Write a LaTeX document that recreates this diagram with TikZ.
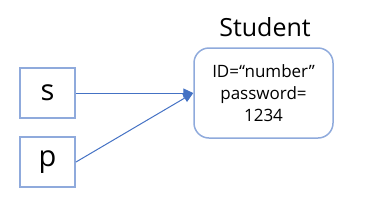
\documentclass[tikz,border=0pt]{standalone}
\usepackage{fontspec}
\setmainfont{Open Sans}
\usetikzlibrary{arrows.meta}
\definecolor{boxblue}{HTML}{8FAADC}
\definecolor{lineblue}{HTML}{4472C4}
\begin{document}
\begin{tikzpicture}[x=1pt,y=-1pt,
  varbox/.style={draw=boxblue,line width=2pt,minimum width=55pt,minimum height=50pt,inner sep=0pt,font=\fontsize{29}{30}\selectfont},
  objbox/.style={draw=boxblue,line width=1.5pt,rounded corners=15pt,minimum width=139pt,minimum height=90pt,inner sep=0pt,align=center,font=\fontsize{17}{22}\selectfont},
  ref/.style={draw=lineblue,line width=1pt,-{Triangle[length=10pt,width=9pt]}}]
\useasboundingbox (0,0) rectangle (371,212);
\node[varbox] (s) at (47.5,93) {s};
\node[varbox] (p) at (47.5,162) {p};
\node[objbox] (obj) at (263.5,93) {ID=“number”\\password=\\1234};
\node[font=\fontsize{25}{28}\selectfont,anchor=base] (title) at (265,36) {Student};
\coordinate (tip) at (obj.west);
\draw[ref] (s.east) -- (tip);
\draw[ref] (p.east) -- (tip);
\end{tikzpicture}
\end{document}
